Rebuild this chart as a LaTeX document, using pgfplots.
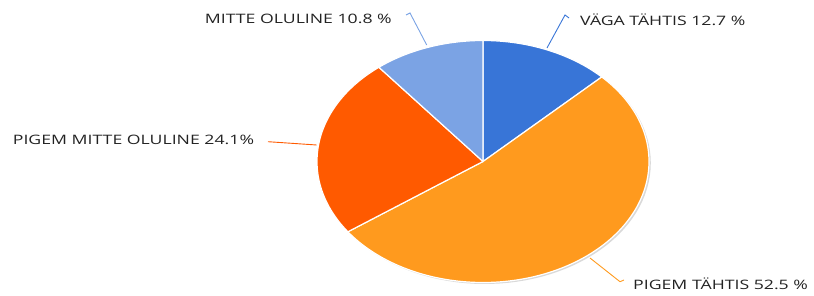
\documentclass[border=0pt]{standalone}
\usepackage{graphicx}
\usepackage{pgfplots}
\pgfplotsset{compat=1.18}
\usepackage{fontspec}
\setmainfont{Open Sans}
\definecolor{c1}{HTML}{3875D7}
\definecolor{c2}{HTML}{FF9A1E}
\definecolor{c3}{HTML}{FF5A00}
\definecolor{c4}{HTML}{7BA3E4}
\definecolor{txt}{HTML}{222222}
\newcommand{\lbl}[1]{\scalebox{1.36}[1]{\fontsize{13}{15}\selectfont #1}}
\begin{document}
\begin{tikzpicture}
% values (percent)
\def\vA{12.7}\def\vB{52.5}\def\vC{24.1}\def\vD{10.8}
\pgfmathsetmacro{\tot}{\vA+\vB+\vC+\vD}
\pgfmathsetmacro{\aA}{90}
\pgfmathsetmacro{\aB}{\aA-(\vA/\tot)*360}
\pgfmathsetmacro{\aC}{\aB-(\vB/\tot)*360}
\pgfmathsetmacro{\aD}{\aC-(\vC/\tot)*360}
\pgfmathsetmacro{\aE}{\aD-(\vD/\tot)*360}
\def\cx{483}\def\cy{133.5}\def\rx{166}\def\ry{121}
\begin{axis}[width=814pt,height=295pt,scale only axis,hide axis,
  xmin=0,xmax=814,ymin=0,ymax=295,clip=false]
\addplot[fill=gray!30,draw=none,domain=0:360,samples=120] ({\cx+1.8+\rx*cos(x)},{\cy-1.5+\ry*sin(x)});
\addplot[fill=c1,draw=white,line width=1.2pt,line join=round,domain=\aB:\aA,samples=60] ({\cx+\rx*cos(x)},{\cy+\ry*sin(x)}) -- (axis cs:\cx,\cy) -- cycle;
\addplot[fill=c2,draw=white,line width=1.2pt,line join=round,domain=\aC:\aB,samples=120] ({\cx+\rx*cos(x)},{\cy+\ry*sin(x)}) -- (axis cs:\cx,\cy) -- cycle;
\addplot[fill=c3,draw=white,line width=1.2pt,line join=round,domain=\aD:\aC,samples=60] ({\cx+\rx*cos(x)},{\cy+\ry*sin(x)}) -- (axis cs:\cx,\cy) -- cycle;
\addplot[fill=c4,draw=white,line width=1.2pt,line join=round,domain=\aE:\aD,samples=60] ({\cx+\rx*cos(x)},{\cy+\ry*sin(x)}) -- (axis cs:\cx,\cy) -- cycle;
% leader lines
\draw[c4,line width=0.9pt] (axis cs:426.7,250) -- (axis cs:410,282) -- (axis cs:406,280);
\draw[c1,line width=0.9pt] (axis cs:547,247) -- (axis cs:565,280) -- (axis cs:569,277);
\draw[c3,line width=0.9pt] (axis cs:316.7,150) -- (axis cs:268,153.3);
\draw[c2,line width=0.9pt] (axis cs:590,37) -- (axis cs:620,13.3) -- (axis cs:624,15);
% labels
\node[anchor=east,inner sep=0pt,text=txt] at (axis cs:392,276) {\lbl{MITTE OLULINE 10.8 \%}};
\node[anchor=west,inner sep=0pt,text=txt] at (axis cs:580,275) {\lbl{VÄGA TÄHTIS 12.7 \%}};
\node[anchor=west,inner sep=0pt,text=txt] at (axis cs:12.7,155.5) {\lbl{PIGEM MITTE OLULINE 24.1\%}};
\node[anchor=west,inner sep=0pt,text=txt] at (axis cs:633,11.5) {\lbl{PIGEM TÄHTIS 52.5 \%}};
\end{axis}
\pgfresetboundingbox
\path[use as bounding box] (current axis.south west) rectangle (current axis.north east);
\end{tikzpicture}
\end{document}
